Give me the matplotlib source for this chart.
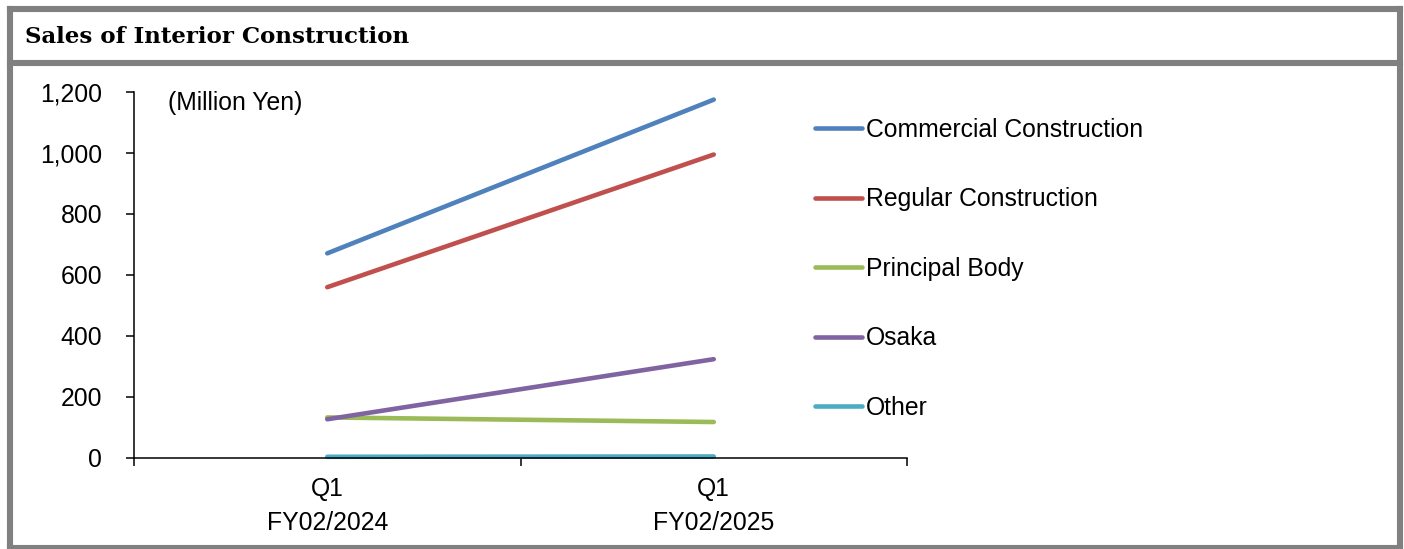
import matplotlib
matplotlib.use("Agg")
import matplotlib.pyplot as plt
from matplotlib.lines import Line2D
from matplotlib.ticker import FuncFormatter

# quarterly sales by segment (million yen)
periods = ["Q1\nFY02/2024", "Q1\nFY02/2025"]
series_names = ["Commercial Construction", "Regular Construction",
                "Principal Body", "Osaka", "Other"]
commercial = [670, 1174]
regular = [559, 994]
principal = [132, 117]
osaka = [126, 323]
other = [3, 4]
colors = ["#4F81BD", "#C0504D", "#9BBB59", "#8064A2", "#4BACC6"]

W, H = 1404, 549
FS = 17.8
plt.rcParams["font.family"] = ["Liberation Sans", "DejaVu Sans"]

fig = plt.figure(figsize=(W / 100, H / 100), dpi=100)


def px(x, y):
    return x / W, 1 - y / H


# grey frame with a title band
frame_kw = dict(color="#808080", lw=4.4, transform=fig.transFigure, solid_capstyle="projecting")
for (x0, y0), (x1, y1) in [((10, 9), (1400, 9)), ((10, 9), (10, 548)),
                           ((1400, 9), (1400, 548)), ((10, 548), (1400, 548)),
                           ((10, 63), (1400, 63))]:
    a, b = px(x0, y0)
    c, d = px(x1, y1)
    fig.add_artist(Line2D([a, c], [b, d], **frame_kw))

tx, ty = px(25, 37)
fig.text(tx, ty, "Sales of Interior Construction", family="DejaVu Serif",
         fontweight="semibold", fontsize=16.5, va="center", ha="left")

left, top = px(134, 91.7)
right, bottom = px(907, 457.7)
ax = fig.add_axes([left, bottom, right - left, top - bottom])

xs = list(range(len(periods)))
for vals, name, c in zip([commercial, regular, principal, osaka, other], series_names, colors):
    ax.plot(xs, vals, color=c, lw=3.3, label=name, solid_capstyle="round", clip_on=False)

ax.set_xlim(-0.5, 1.5)
ax.set_ylim(0, 1200)
ax.set_yticks(range(0, 1201, 200))
ax.yaxis.set_major_formatter(FuncFormatter(lambda v, p: f"{int(v):,}"))
ax.set_xticks([-0.5, 0.5, 1.5])
ax.set_xticklabels([])
ax.set_xticks(xs, periods, minor=True)

for s in ["top", "right"]:
    ax.spines[s].set_visible(False)
for s in ["left", "bottom"]:
    ax.spines[s].set_linewidth(1.1)

ax.tick_params(axis="y", which="major", direction="out", length=6, width=1.1,
               labelsize=FS, pad=17)
ax.tick_params(axis="x", which="major", direction="out", length=6, width=1.1)
ax.tick_params(axis="x", which="minor", length=0, labelsize=FS, pad=14)
for lab in ax.get_xticklabels(minor=True):
    lab.set_linespacing(1.5)

ax.text(0.044, 0.97, "(Million Yen)", transform=ax.transAxes, fontsize=FS,
        ha="left", va="center")

lx, ly = px(815, 118)
fig.legend(*ax.get_legend_handles_labels(), loc="upper left", bbox_to_anchor=(lx, ly),
           frameon=False, fontsize=FS, handlelength=1.9, handletextpad=0.15,
           labelspacing=1.84, borderpad=0, borderaxespad=0)

fig.savefig("out.png", dpi=100)
